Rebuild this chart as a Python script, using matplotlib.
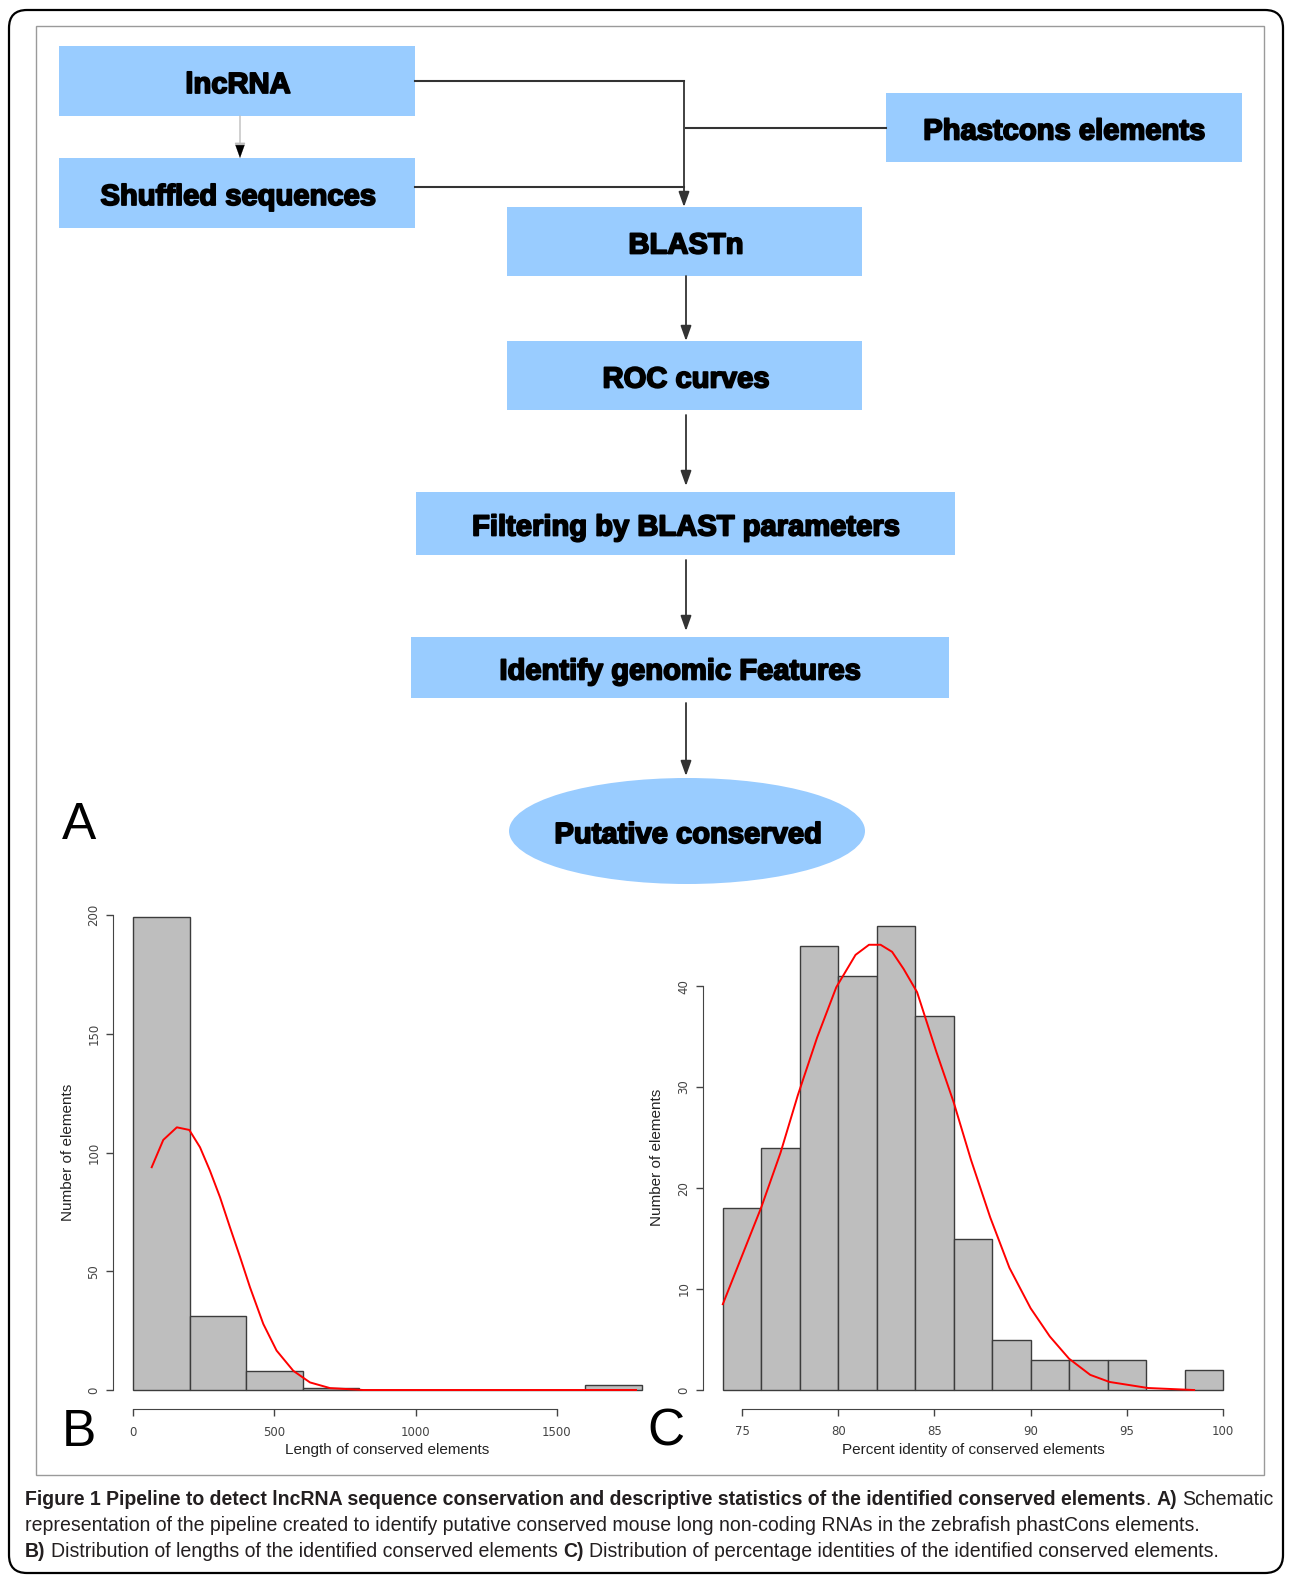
import numpy as np
import matplotlib
matplotlib.use('Agg')
import matplotlib.pyplot as plt
import matplotlib.patheffects as pe
from matplotlib.patches import Rectangle, Ellipse, FancyBboxPatch
from matplotlib import font_manager

W, H = 1293, 1575

# panel B: lengths of conserved elements
len_edges = [0, 200, 400, 600, 800, 1000, 1200, 1400, 1600, 1800]
len_counts = [199, 31, 8, 1, 0, 0, 0, 0, 2]
len_curve_x = [66, 107, 155, 199, 237, 272, 308, 343, 379, 414, 461, 508, 567, 626, 697, 815, 1000, 1400, 1780]
len_curve_y = [93.8, 105.3, 110.6, 109.5, 102.2, 92.4, 81.1, 68.5, 55.9, 43.2, 27.8, 16.6, 8.1, 3.2, 0.8, 0, 0, 0, 0]
len_xticks = [0, 500, 1000, 1500]
len_yticks = [0, 50, 100, 150, 200]

# panel C: percent identity
pid_edges = [74, 76, 78, 80, 82, 84, 86, 88, 90, 92, 94, 96, 98, 100]
pid_counts = [18, 24, 44, 41, 46, 37, 15, 5, 3, 3, 3, 0, 2]
pid_curve_x = [74.0, 76.0, 77.0, 77.9, 78.9, 79.9, 80.9, 81.6, 82.2, 82.8, 83.4, 84.1, 85.1, 86.0,
               86.9, 87.9, 88.9, 90.0, 91.0, 92.0, 93.1, 94.1, 96.1, 98.5]
pid_curve_y = [8.5, 18.1, 23.5, 29.2, 34.9, 39.9, 43.1, 44.1, 44.1, 43.4, 41.7, 39.4, 33.5, 28.5,
               22.8, 17.1, 12.1, 8.1, 5.3, 3.1, 1.5, 0.8, 0.2, 0.0]
pid_xticks = [75, 80, 85, 90, 95, 100]
pid_yticks = [0, 10, 20, 30, 40]

# pipeline steps (label, left, top, right, bottom, text x)
steps = [
    ('lncRNA', 59, 46, 415, 116, 238),
    ('Shuffled sequences', 59, 158, 415, 228, 238),
    ('Phastcons elements', 886, 93, 1242, 162, 1064),
    ('BLASTn', 507, 207, 862, 276, 686),
    ('ROC curves', 507, 341, 862, 410, 686),
    ('Filtering by BLAST parameters', 416, 492, 955, 555, 686),
    ('Identify genomic Features', 411, 637, 949, 698, 680),
]
final_step = 'Putative conserved'

caption = [
    [('Figure 1 Pipeline to detect lncRNA sequence conservation and descriptive statistics of the identified conserved elements', 'bold', False),
     ('.', 'normal', False), ('A)', 'bold', True), ('Schematic', 'normal', True)],
    [('representation of the pipeline created to identify putative conserved mouse long non-coding RNAs in the zebrafish phastCons elements.', 'normal', False)],
    [('B)', 'bold', False), ('Distribution of lengths of the identified conserved elements', 'normal', True),
     ('C)', 'bold', True), ('Distribution of percentage identities of the identified conserved elements.', 'normal', True)],
]

names = {f.name for f in font_manager.fontManager.ttflist}
narrow = 'Liberation Sans Narrow' in names
box_font = ['Liberation Sans Narrow', 'Liberation Sans'] if narrow else ['Liberation Sans']
box_size = 25 if narrow else 21
cap_font = box_font
heavy = [pe.withStroke(linewidth=1.3, foreground='black')]

BLUE = '#99ccff'

fig = plt.figure(figsize=(W / 100, H / 100), dpi=100)
ax0 = fig.add_axes([0, 0, 1, 1])
ax0.set_xlim(0, W)
ax0.set_ylim(H, 0)
ax0.axis('off')

# frames
ax0.add_patch(FancyBboxPatch((9, 10), 1274, 1563, boxstyle='round,pad=0,rounding_size=18',
                             fc='none', ec='black', lw=1.6))
ax0.add_patch(Rectangle((36, 26), 1228, 1449, fc='none', ec='#9a9a9a', lw=1))

# boxes
for label, l, t, r, b, tx in steps:
    ax0.add_patch(Rectangle((l, t), r - l, b - t, fc=BLUE, ec='none'))
    ax0.text(tx, (t + b) / 2 + 12, label, ha='center', va='baseline', family=box_font,
             fontsize=box_size, fontweight='bold', color='black', path_effects=heavy)
ax0.add_patch(Ellipse((687, 831), 356, 106, fc=BLUE, ec='none'))
ax0.text(688, 831 + 12, final_step, ha='center', va='baseline', family=box_font,
         fontsize=box_size, fontweight='bold', color='black', path_effects=heavy)

# connectors
LC = '#333333'
ax0.plot([415, 684], [81, 81], color=LC, lw=1.5)
ax0.plot([415, 684], [187, 187], color=LC, lw=1.5)
ax0.plot([886, 686], [128, 128], color=LC, lw=1.5)


def arrow(x, y0, y1, color=LC, lw=1.3):
    ax0.annotate('', xy=(x, y1), xytext=(x, y0),
                 arrowprops=dict(arrowstyle='-|>,head_length=0.7,head_width=0.25', color=color, lw=lw,
                                 shrinkA=0, shrinkB=0, mutation_scale=13))


arrow(684, 81, 207)
arrow(240, 116, 158, color='#bdbdbd', lw=1)
arrow(686, 276, 341)
arrow(686, 415, 486)
arrow(686, 560, 631)
arrow(686, 703, 776)
# dark head on the light arrow
ax0.annotate('', xy=(240, 158), xytext=(240, 150),
             arrowprops=dict(arrowstyle='-|>,head_length=0.7,head_width=0.25', color='black', lw=0.1,
                             shrinkA=0, shrinkB=0, mutation_scale=13))

# panel letters
ax0.text(62, 839, 'A', fontsize=37, family='Liberation Sans', va='baseline')
ax0.text(62, 1446, 'B', fontsize=37, family='Liberation Sans', va='baseline')
ax0.text(647, 1446, 'C', fontsize=37, family='Liberation Sans', va='baseline')


def hist_panel(rect, edges, counts, cx, cy, xlim, ylim, xticks, yticks, xlabel, xlab_y, ylab_x):
    l, t, r, b = rect
    ax = fig.add_axes([l / W, 1 - b / H, (r - l) / W, (b - t) / H])
    ax.patch.set_alpha(0)
    ax.bar(edges[:-1], counts, width=np.diff(edges), align='edge', color='#bebebe',
           edgecolor='#3c3c3c', lw=1)
    ax.plot(cx, cy, color='red', lw=1.4)
    ax.set_xlim(xlim)
    ax.set_ylim(ylim)
    for s in ['top', 'right']:
        ax.spines[s].set_visible(False)
    ax.spines['left'].set_bounds(yticks[0], yticks[-1])
    ax.spines['bottom'].set_bounds(xticks[0], xticks[-1])
    ax.spines['left'].set_color('#444444')
    ax.spines['bottom'].set_color('#444444')
    ax.set_xticks(xticks)
    ax.set_yticks(yticks)
    ax.tick_params(direction='out', length=5, width=1, colors='#444444', labelsize=8.5, pad=4)
    ax.tick_params(axis='x', pad=7)
    plt.setp(ax.get_yticklabels(), rotation=90, va='center')
    ax.set_xlabel(xlabel, fontsize=11, family='Liberation Sans', color='#222222', va='center')
    ax.set_ylabel('Number of elements', fontsize=11, family='Liberation Sans', color='#222222', va='center')
    ax.xaxis.set_label_coords(0.5, (b - xlab_y) / (b - t))
    ax.yaxis.set_label_coords((ylab_x - l) / (r - l), 0.5)
    return ax


hist_panel((112.7, 896, 662, 1409), len_edges, len_counts, len_curve_x, len_curve_y,
           (-72, 1872), (-8, 208), len_xticks, len_yticks,
           'Length of conserved elements', 1450, 68)
hist_panel((702.8, 907, 1243, 1408.6), pid_edges, pid_counts, pid_curve_x, pid_curve_y,
           (72.96, 101.04), (-1.84, 47.84), pid_xticks, pid_yticks,
           'Percent identity of conserved elements', 1450, 657)

# caption with mixed weights
renderer = fig.canvas.get_renderer()


def text_width(s, size, weight):
    t = fig.text(0, 0, s, fontsize=size, fontweight=weight, family=cap_font)
    w = t.get_window_extent(renderer).width
    t.remove()
    return w


cap_size = 15 * 1175 / text_width(caption[1][0][0], 15, 'normal')
space_w = text_width('x x', cap_size, 'normal') - text_width('xx', cap_size, 'normal')

for line, base in zip(caption, [1505, 1531, 1557]):
    x = 25
    for s, weight, gap in line:
        if gap:
            x += space_w
        t = ax0.text(x, base, s, fontsize=cap_size, fontweight=weight, family=cap_font,
                     va='baseline', ha='left', color='#231f20')
        x += t.get_window_extent(renderer).width

fig.savefig('out.png', dpi=100)
